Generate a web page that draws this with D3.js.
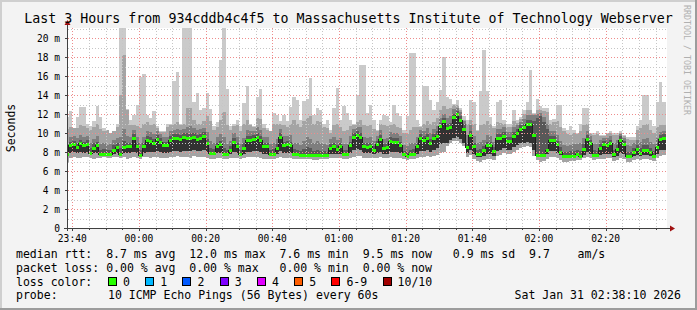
<!DOCTYPE html>
<html>
<head>
<meta charset="utf-8">
<script src="https://cdn.jsdelivr.net/npm/d3@7"></script>
<style>
html, body { margin: 0; padding: 0; background: #f3f3f3; }
svg { display: block; }
</style>
</head>
<body>
<script>
// one column per minute, first column starts 23:38
const firstMinute = new Date(2026, 0, 30, 23, 38);

const medianRtt = [
	7.8,8.7,8.8,8.5,8.9,8.7,8.8,7.9,8.4,8.7,
	7.8,7.8,7.8,7.8,8.2,8.5,7.8,8.5,8.6,8.6,
	9.5,8.6,7.7,8.6,9.3,9.2,9.0,9.4,9.1,8.7,
	8.7,9.3,9.5,9.5,9.4,9.6,9.5,9.5,9.6,9.4,
	9.5,9.7,8.9,7.9,7.9,8.6,8.8,7.8,7.8,8.2,
	9.1,8.6,7.8,8.4,9.3,9.3,9.4,9.6,9.3,8.6,
	8.6,7.8,7.8,8.4,9.6,8.7,8.8,8.7,7.8,7.8,
	7.7,7.7,7.7,7.7,7.7,7.7,7.7,7.7,7.7,8.4,
	8.6,8.3,8.6,7.8,7.8,8.7,9.6,9.8,9.6,8.6,
	8.5,8.6,8.2,8.8,9.4,8.4,8.5,9.2,9.1,9.1,
	8.7,7.75,7.6,7.8,7.8,8.6,9.5,9.3,9.5,9.0,
	9.5,9.7,10.7,11.3,10.5,10.6,11.7,12.0,11.4,10.4,
	8.5,9.8,8.6,7.8,7.8,8.2,8.7,8.7,8.1,9.5,
	9.5,9.7,9.2,9.2,9.7,10.0,10.4,10.6,11.0,11.0,
	9.8,7.7,7.7,7.7,8.2,9.3,9.3,8.8,8.0,7.6,
	7.6,7.6,7.6,7.75,7.6,8.3,9.4,8.9,7.7,7.7,
	8.4,8.8,8.7,8.9,7.75,8.3,9.3,8.8,7.6,7.6,
	8.0,8.3,7.9,8.2,8.2,8.0,7.6,8.5,9.4,9.5
];

// smoke: sorted ping values per minute (ms)
const maxRtt = [
	11.7,12.3,10.5,11.7,12.7,12.7,11.0,10.7,11.3,12.8,
	11.7,10.5,10.3,10.0,10.2,11.0,21.5,21.5,12.5,11.4,
	11.9,12.9,15.9,16.2,11.9,11.6,12.3,10.7,10.2,10.2,
	11.0,11.0,15.5,16.4,11.0,21.5,21.5,21.5,13.3,14.2,
	12.4,12.6,14.2,12.5,10.7,11.2,17.7,21.5,14.6,10.7,
	10.9,11.4,10.7,13.2,14.9,11.0,10.7,13.8,14.6,11.0,
	10.5,10.2,12.1,11.9,11.3,11.9,11.3,12.7,13.8,13.5,
	11.4,13.4,13.6,15.8,11.9,12.6,12.4,11.0,11.4,10.3,
	12.6,14.7,11.4,12.8,12.1,11.4,11.0,14.0,17.2,17.2,
	12.1,12.9,11.4,10.3,11.4,11.9,11.8,11.2,12.9,12.1,
	11.8,10.3,11.8,18.4,18.4,11.4,10.7,14.9,14.9,13.5,
	12.4,13.3,14.5,18.0,13.8,13.6,13.1,13.5,12.6,11.8,
	11.4,13.5,13.3,10.3,14.4,18.7,14.4,11.7,10.7,13.3,
	13.5,11.4,11.0,11.0,12.4,11.4,11.7,12.4,13.3,16.6,
	12.1,13.6,12.8,12.6,12.6,11.4,11.5,12.9,12.9,10.5,
	10.3,10.7,10.3,10.0,11.0,12.6,12.6,10.0,10.0,10.2,
	9.8,9.8,10.0,10.2,10.0,10.0,10.2,9.8,9.6,9.6,
	9.6,10.7,11.4,14.0,14.0,11.4,10.7,13.3,15.4,13.3
];

const p90Rtt = [
	10.4,10.6,10.5,10.5,10.8,10.7,10.5,10.3,10.6,10.9,
	10.4,10.2,10.3,10.0,10.2,10.6,14.0,18.2,12.4,10.8,
	10.8,10.7,10.5,11.0,11.2,10.8,10.9,10.5,10.1,10.1,
	10.6,10.8,11.0,11.2,10.8,11.0,12.6,12.6,11.4,11.0,
	11.0,11.3,11.8,11.3,10.3,10.6,11.4,12.2,10.8,10.3,
	10.7,10.8,10.2,11.0,11.4,10.8,10.6,11.6,11.5,10.5,
	10.3,10.2,10.9,10.9,10.9,10.8,10.6,11.0,11.4,11.0,
	10.6,11.3,11.6,11.8,11.0,11.3,11.2,10.6,10.5,10.0,
	10.8,11.0,10.6,10.2,10.3,10.7,10.8,11.2,11.4,10.8,
	10.7,10.8,10.4,10.2,10.9,10.8,10.7,10.8,10.9,10.6,
	10.5,10.0,9.9,10.3,10.6,10.6,10.6,11.0,11.3,11.0,
	11.2,11.6,12.4,12.8,12.5,12.6,13.0,13.0,12.4,11.4,
	11.0,11.4,10.9,10.2,10.8,11.0,11.3,10.9,10.5,11.2,
	11.1,11.0,10.6,10.6,11.3,11.1,11.5,12.0,12.4,12.4,
	12.0,12.4,12.4,12.3,12.2,11.0,11.2,11.3,10.6,10.2,
	9.9,9.8,10.0,9.9,10.2,10.8,10.9,9.9,9.8,9.9,
	9.7,9.7,9.9,10.0,9.8,9.8,10.0,9.7,9.4,9.3,
	9.3,10.3,10.5,10.8,10.9,10.3,10.0,10.6,10.8,10.8
];

const p80Rtt = [
	8.9,9.6,9.7,9.5,9.8,9.6,9.7,9.0,9.4,9.7,
	8.8,8.9,8.7,8.8,9.3,9.5,9.6,10.4,9.7,9.6,
	10.3,9.6,8.9,9.6,10.2,10.1,9.9,10.2,9.9,9.6,
	9.6,10.2,10.3,10.4,10.3,10.4,10.6,10.7,10.5,10.3,
	10.4,10.5,10.1,9.2,8.9,9.6,9.9,9.6,8.8,9.2,
	10.0,9.6,8.8,9.5,10.3,10.2,10.2,10.6,10.3,9.6,
	9.6,8.8,9.0,9.4,10.4,9.7,9.7,9.8,9.0,8.9,
	8.7,9.2,9.6,9.4,8.9,9.2,9.0,8.8,8.7,9.4,
	9.6,9.3,9.5,8.8,8.8,9.7,10.4,10.6,10.6,9.6,
	9.5,9.6,9.2,9.7,10.3,9.4,9.5,10.1,10.0,10.0,
	9.7,8.7,8.6,8.9,9.0,9.6,10.3,10.2,10.5,10.0,
	10.4,10.7,11.6,12.0,11.6,11.8,12.5,12.6,12.2,11.3,
	9.8,10.8,9.7,8.9,9.1,9.3,9.8,9.7,9.1,10.4,
	10.4,10.6,10.1,10.1,10.6,10.8,11.2,11.5,11.9,11.9,
	11.9,12.0,12.1,11.7,11.0,10.2,10.2,9.8,9.2,8.7,
	8.6,8.7,8.8,8.8,8.9,9.5,10.2,9.7,8.8,8.8,
	9.3,9.5,9.5,9.7,8.9,9.3,9.9,9.5,8.7,8.6,
	8.9,9.3,9.1,9.4,9.5,9.1,8.8,9.5,10.1,10.2
];

const p70Rtt = [
	8.3,9.1,9.2,9.0,9.3,9.1,9.3,8.4,8.9,9.1,
	8.2,8.3,8.2,8.2,8.7,8.9,8.4,9.2,9.0,9.0,
	9.9,9.0,8.2,9.0,9.7,9.6,9.4,9.8,9.5,9.1,
	9.1,9.7,9.9,9.9,9.8,10.0,10.0,10.0,10.0,9.8,
	9.9,10.1,9.4,8.4,8.3,9.0,9.2,8.4,8.2,8.6,
	9.5,9.0,8.2,8.9,9.7,9.7,9.8,10.0,9.7,9.0,
	9.0,8.2,8.3,8.8,10.0,9.1,9.2,9.1,8.3,8.2,
	8.1,8.3,8.5,8.4,8.1,8.2,8.1,8.1,8.0,8.8,
	9.0,8.7,9.0,8.2,8.2,9.1,10.0,10.2,10.0,9.0,
	8.9,9.0,8.6,9.2,9.8,8.8,8.9,9.6,9.5,9.5,
	9.1,8.1,8.0,8.2,8.3,9.0,9.9,9.7,9.9,9.4,
	9.9,10.2,11.1,11.6,11.0,11.1,12.0,12.3,11.8,10.9,
	9.0,10.2,9.0,8.2,8.3,8.6,9.1,9.1,8.5,9.9,
	9.9,10.1,9.6,9.6,10.1,10.4,10.8,11.0,11.4,11.4,
	11.3,11.6,11.8,11.2,10.4,9.7,9.7,9.2,8.5,8.0,
	8.0,8.1,8.1,8.2,8.1,8.8,9.8,9.3,8.2,8.1,
	8.8,9.2,9.1,9.3,8.2,8.7,9.7,9.2,8.0,8.0,
	8.4,8.7,8.4,8.7,8.7,8.4,8.1,8.9,9.8,9.9
];

const lowRtt = [
	7.7,7.9,8.0,7.9,8.0,7.9,8.0,7.8,7.9,7.9,
	7.8,7.8,7.7,7.8,7.8,7.9,7.8,7.9,7.9,7.9,
	8.0,7.9,7.7,7.9,8.0,8.0,8.0,8.1,8.0,7.9,
	7.9,8.0,8.1,8.1,8.0,8.1,8.1,8.1,8.2,8.1,
	8.1,8.2,8.0,7.7,7.7,7.9,7.9,7.7,7.7,7.8,
	8.0,7.9,7.7,7.8,8.0,8.0,8.1,8.1,8.0,7.8,
	7.8,7.7,7.7,7.8,8.1,7.9,7.9,7.9,7.7,7.7,
	7.7,7.7,7.7,7.7,7.6,7.6,7.6,7.6,7.6,7.8,
	7.8,7.8,7.8,7.6,7.6,7.9,8.2,8.3,8.2,7.9,
	7.9,7.9,7.8,7.9,8.0,7.8,7.8,8.0,8.0,8.0,
	7.9,7.6,7.5,7.6,7.6,7.8,8.1,8.1,8.2,8.0,
	8.2,8.4,8.8,9.0,9.0,9.3,9.5,9.6,9.4,9.0,
	7.9,8.2,7.8,7.5,7.5,7.6,7.8,7.8,7.6,8.1,
	8.2,8.4,8.2,8.2,8.5,8.7,8.9,9.0,9.1,9.0,
	8.2,7.6,7.6,7.6,7.8,8.1,8.1,7.9,7.7,7.5,
	7.5,7.5,7.5,7.6,7.5,7.7,8.0,7.8,7.6,7.6,
	7.7,7.8,7.8,7.8,7.5,7.6,7.9,7.8,7.4,7.4,
	7.6,7.7,7.6,7.7,7.7,7.6,7.4,7.8,8.2,8.2
];

const minRtt = [
	7.0,7.4,7.5,7.4,7.4,7.5,7.5,7.4,7.3,7.4,
	7.4,7.5,7.4,7.4,7.5,7.5,7.4,7.5,7.3,7.4,
	7.5,7.4,7.3,7.5,7.5,7.4,7.5,7.5,7.4,7.4,
	7.4,7.5,7.5,7.6,7.5,7.5,7.5,7.4,7.6,7.5,
	7.5,7.5,7.4,7.3,7.3,7.4,7.4,7.3,7.3,7.4,
	7.4,7.4,7.3,7.4,7.5,7.5,7.5,7.5,7.4,7.3,
	7.3,7.3,7.3,7.4,7.5,7.4,7.4,7.4,7.3,7.3,
	7.3,7.3,7.3,7.3,7.2,7.2,7.3,7.3,7.3,7.4,
	7.4,7.4,7.4,7.3,7.3,7.4,7.5,7.6,7.6,7.4,
	7.4,7.4,7.4,7.4,7.5,7.4,7.4,7.5,7.4,7.4,
	7.4,7.3,7.2,7.3,7.3,7.4,7.5,7.5,7.6,7.5,
	7.6,7.7,7.9,8.0,8.6,9.0,9.2,9.2,9.0,8.6,
	7.5,7.7,7.3,7.1,7.0,7.2,7.3,7.3,7.2,7.6,
	7.7,7.9,7.8,7.8,8.0,8.2,8.4,8.5,8.6,8.5,
	7.6,7.2,7.0,7.1,7.3,7.5,7.5,7.4,7.2,7.0,
	6.9,7.1,7.1,7.2,7.2,7.4,7.5,7.4,7.2,7.3,
	7.3,7.3,7.4,7.4,7.1,7.2,7.4,7.3,7.0,6.9,
	7.2,7.3,7.2,7.3,7.3,7.2,7.1,7.4,7.6,7.7
];

const yTickValues = [0, 2, 4, 6, 8, 10, 12, 14, 16, 18, 20];
const yTickLabels = ["0", "2 m", "4 m", "6 m", "8 m", "10 m", "12 m", "14 m", "16 m", "18 m", "20 m"];
const xTickLabels = ["23:40", "00:00", "00:20", "00:40", "01:00", "01:20", "01:40", "02:00", "02:20"];

const lossLabels = ["0", "1", "2", "3", "4", "5", "6-9", "10/10"];
const lossColors = ["#26ff00", "#00b8ff", "#0059ff", "#7e00ff", "#e000ff", "#ff5e00", "#ff0000", "#a10000"];

const legendLines = [
	"median rtt:  8.7 ms avg  12.0 ms max  7.6 ms min  9.5 ms now   0.9 ms sd  9.7    am/s",
	"packet loss: 0.00 % avg  0.00 % max   0.00 % min  0.00 % now"
];
const probeText = "10 ICMP Echo Pings (56 Bytes) every 60s";
const stampText = "Sat Jan 31 02:38:10 2026";
const titleText = "Last 3 Hours from 934cddb4c4f5 to Massachusetts Institute of Technology Webserver";

function init() {
	let width = 697, height = 310;
	let left = 67, right = 667, top = 28, bottom = 228;
	let mono = "'DejaVu Sans Mono', monospace";

	let svg = d3.select("body").append("svg")
		.attr("width", width)
		.attr("height", height)
		.style("font-family", mono);

	svg.append("rect")
		.attr("width", width).attr("height", height)
		.attr("fill", "#f3f3f3");

	// 3d frame like rrdtool
	svg.append("path")
		.attr("d", `M0,${height} V0 H${width} V2 H2 V${height} Z`)
		.attr("fill", "#cfcfcf");
	svg.append("path")
		.attr("d", `M${width},0 V${height} H0 V${height - 2} H${width - 2} V0 Z`)
		.attr("fill", "#9c9c9c");

	let x = d3.scaleTime()
		.domain([new Date(2026, 0, 30, 23, 38, 25), new Date(2026, 0, 31, 2, 38, 25)])
		.range([left, right]);

	let y = d3.scaleLinear()
		.domain([0, 200 / 9.5])
		.range([bottom, top]);

	svg.append("rect")
		.attr("x", left).attr("y", top)
		.attr("width", right - left).attr("height", bottom - top)
		.attr("fill", "#ffffff");

	svg.append("clipPath").attr("id", "canvas")
		.append("rect")
		.attr("x", left).attr("y", top)
		.attr("width", right - left).attr("height", bottom - top);

	let rows = medianRtt.map((m, i) => ({
		t: d3.timeMinute.offset(firstMinute, i),
		med: m,
		min: minRtt[i],
		low: lowRtt[i],
		p70: p70Rtt[i],
		p80: p80Rtt[i],
		p90: p90Rtt[i],
		max: maxRtt[i]
	}));
	let last = rows[rows.length - 1];
	let stepRows = rows.concat([Object.assign({}, last, {t: d3.timeMinute.offset(last.t, 1)})]);

	let plot = svg.append("g").attr("clip-path", "url(#canvas)");

	let bands = [
		{lo: "min", hi: "max", color: "#cacaca"},
		{lo: "min", hi: "p90", color: "#a4a4a4"},
		{lo: "low", hi: "p80", color: "#7e7e7e"},
		{lo: "low", hi: "p70", color: "#585858"},
		{lo: "low", hi: "med", color: "#323232"}
	];

	bands.forEach(b => {
		plot.append("path")
			.datum(stepRows)
			.attr("fill", b.color)
			.attr("shape-rendering", "crispEdges")
			.attr("d", d3.area()
				.curve(d3.curveStepAfter)
				.x(d => x(d.t))
				.y0(d => y(d[b.lo]))
				.y1(d => y(d[b.hi])));
	});

	// grid on top of smoke
	let grid = svg.append("g");
	let ms = d3.range(1, 22);
	grid.selectAll(".hgrid")
		.data(ms)
		.enter().append("line")
		.attr("x1", left + 1).attr("x2", right)
		.attr("y1", d => Math.round(y(d)) + 0.5)
		.attr("y2", d => Math.round(y(d)) + 0.5)
		.attr("stroke", d => d % 2 === 0 ? "#ee8c8c" : "#c6c6c6")
		.attr("stroke-dasharray", "1,2");

	let fives = d3.timeMinute.every(5).range(x.domain()[0], x.domain()[1]);
	grid.selectAll(".vgrid")
		.data(fives)
		.enter().append("line")
		.attr("y1", top).attr("y2", bottom)
		.attr("x1", d => Math.round(x(d)) + 0.5)
		.attr("x2", d => Math.round(x(d)) + 0.5)
		.attr("stroke", d => d.getMinutes() % 20 === 0 ? "#ee8c8c" : "#c6c6c6")
		.attr("stroke-dasharray", "1,2");

	// median: dark step line plus loss coloured boxes
	plot.append("path")
		.datum(stepRows)
		.attr("fill", "none")
		.attr("stroke", "#202020")
		.attr("stroke-width", 1)
		.attr("shape-rendering", "crispEdges")
		.attr("d", d3.line()
			.curve(d3.curveStepAfter)
			.x(d => x(d.t))
			.y(d => Math.round(y(d.med)) + 0.5));

	plot.selectAll(".med")
		.data(rows)
		.enter().append("rect")
		.attr("x", d => x(d.t))
		.attr("width", d => x(d3.timeMinute.offset(d.t, 1)) - x(d.t))
		.attr("y", d => Math.round(y(d.med)) - 1)
		.attr("height", 3)
		.attr("fill", lossColors[0])
		.attr("shape-rendering", "crispEdges");

	// axes
	let axis = svg.append("g").attr("shape-rendering", "crispEdges");
	axis.append("line")
		.attr("x1", left + 0.5).attr("x2", left + 0.5)
		.attr("y1", bottom + 3).attr("y2", top - 5)
		.attr("stroke", "#404040");
	axis.append("line")
		.attr("x1", left - 3).attr("x2", right + 4)
		.attr("y1", bottom + 0.5).attr("y2", bottom + 0.5)
		.attr("stroke", "#404040");
	svg.append("path")
		.attr("d", `M${left - 2.5},${top - 3} L${left + 0.5},${top - 8} L${left + 3.5},${top - 3} Z`)
		.attr("fill", "#a01010");
	svg.append("path")
		.attr("d", `M${right + 3},${bottom - 2.5} L${right + 8},${bottom + 0.5} L${right + 3},${bottom + 3.5} Z`)
		.attr("fill", "#a01010");

	axis.selectAll(".ytick")
		.data(yTickValues)
		.enter().append("line")
		.attr("x1", left - 2).attr("x2", left)
		.attr("y1", d => Math.round(y(d)) + 0.5)
		.attr("y2", d => Math.round(y(d)) + 0.5)
		.attr("stroke", "#404040");

	axis.selectAll(".xtick")
		.data(fives)
		.enter().append("line")
		.attr("y1", bottom).attr("y2", d => d.getMinutes() % 20 === 0 ? bottom + 3 : bottom + 2)
		.attr("x1", d => Math.round(x(d)) + 0.5)
		.attr("x2", d => Math.round(x(d)) + 0.5)
		.attr("stroke", "#404040");

	svg.selectAll(".ylab")
		.data(yTickValues)
		.enter().append("text")
		.attr("x", 60)
		.attr("y", d => y(d) + 3.5)
		.attr("text-anchor", "end")
		.attr("font-size", "9.6px")
		.attr("fill", "#000")
		.attr("xml:space", "preserve")
		.style("white-space", "pre")
		.text((d, i) => yTickLabels[i]);

	let majors = fives.filter(d => d.getMinutes() % 20 === 0);
	svg.selectAll(".xlab")
		.data(majors)
		.enter().append("text")
		.attr("x", d => x(d))
		.attr("y", 241.5)
		.attr("text-anchor", "middle")
		.attr("font-size", "9.6px")
		.attr("fill", "#000")
		.text((d, i) => xTickLabels[i]);

	svg.append("text")
		.attr("transform", `translate(15,${(top + bottom) / 2}) rotate(-90)`)
		.attr("text-anchor", "middle")
		.attr("font-size", "11.5px")
		.text("Seconds");

	svg.append("text")
		.attr("x", width / 2).attr("y", 23)
		.attr("text-anchor", "middle")
		.attr("font-size", "13.3px")
		.text(titleText);

	svg.append("text")
		.attr("transform", "translate(683.5,5) rotate(90)")
		.attr("font-size", "8.3px")
		.attr("fill", "#b0b0b0")
		.text("RRDTOOL / TOBI OETIKER");

	// legend
	let legend = svg.append("g")
		.attr("font-size", "11.53px");

	let legendText = (tx, ty, s) => legend.append("text")
		.attr("x", tx).attr("y", ty)
		.attr("xml:space", "preserve")
		.style("white-space", "pre")
		.text(s);

	legendLines.forEach((s, i) => legendText(16, 258 + i * 14, s));

	legendText(16, 285.5, "loss color:");
	let bx = 108;
	lossLabels.forEach((l, i) => {
		legend.append("rect")
			.attr("x", bx + 0.5).attr("y", 277.5)
			.attr("width", 8).attr("height", 8)
			.attr("fill", lossColors[i])
			.attr("stroke", "#000")
			.attr("shape-rendering", "crispEdges");
		let t = legendText(bx + 15, 285.5, l);
		bx = bx + 15 + t.node().getComputedTextLength() + 15.3;
	});

	legendText(16, 299, "probe:");
	legendText(108, 299, probeText);
	legendText(681, 299, stampText).attr("text-anchor", "end");
}

window.onload = () => {
	init();
};
</script>
</body>
</html>
